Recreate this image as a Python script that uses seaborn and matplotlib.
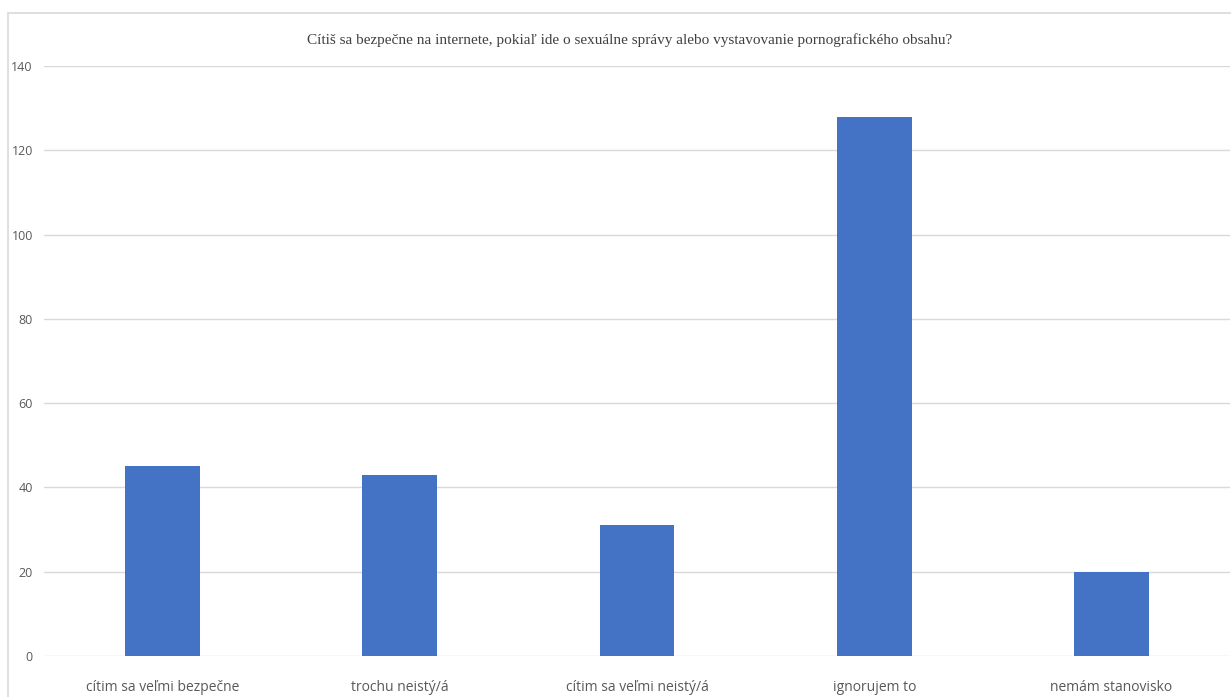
import matplotlib
matplotlib.use('Agg')
import matplotlib.pyplot as plt
import seaborn as sns
import pandas as pd
from matplotlib.patches import Rectangle

title = 'Cítiš sa bezpečne na internete, pokiaľ ide o sexuálne správy alebo vystavovanie pornografického obsahu?'
categories = ['cítim sa veľmi bezpečne', 'trochu neistý/á', 'cítim sa veľmi neistý/á', 'ignorujem to', 'nemám stanovisko']
counts = [45, 43, 31, 128, 20]
yticks = [0, 20, 40, 60, 80, 100, 120, 140]

df = pd.DataFrame({'answer': categories, 'count': counts})

sns.set_style('white')
plt.rcParams['font.family'] = ['Open Sans', 'DejaVu Sans']

fig = plt.figure(figsize=(12.31, 6.97), dpi=100)
ax = fig.add_axes([44 / 1231, 41 / 697, 1186 / 1231, 590 / 697])

sns.barplot(data=df, x='answer', y='count', ax=ax, color='#4472C4', width=0.316,
            saturation=1, edgecolor='none')

ax.set_ylim(0, 140)
ax.set_xlim(-0.5, len(categories) - 0.5)
ax.set_yticks(yticks)
ax.set_yticklabels([str(t) for t in yticks])
ax.set_xlabel('')
ax.set_ylabel('')
ax.grid(axis='y', color='#d9d9d9', linewidth=1)
ax.set_axisbelow(True)
for s in ax.spines.values():
    s.set_visible(False)
ax.tick_params(axis='y', length=0, pad=8, labelsize=9, colors='#595959')
ax.tick_params(axis='x', length=0, pad=17, labelsize=10, colors='#595959')

fig.text(630 / 1231, 1 - 40 / 697, title, ha='center', va='center',
         fontsize=11, family='Liberation Serif', color='#404040')

# chart frame (left and top edges visible)
fig.patches.append(Rectangle((8 / 1231, -0.1), 1.2, 1 - 12.5 / 697 + 0.1,
                             transform=fig.transFigure, fill=False,
                             edgecolor='#d9d9d9', linewidth=1.2))

fig.savefig('out.png', dpi=100)
